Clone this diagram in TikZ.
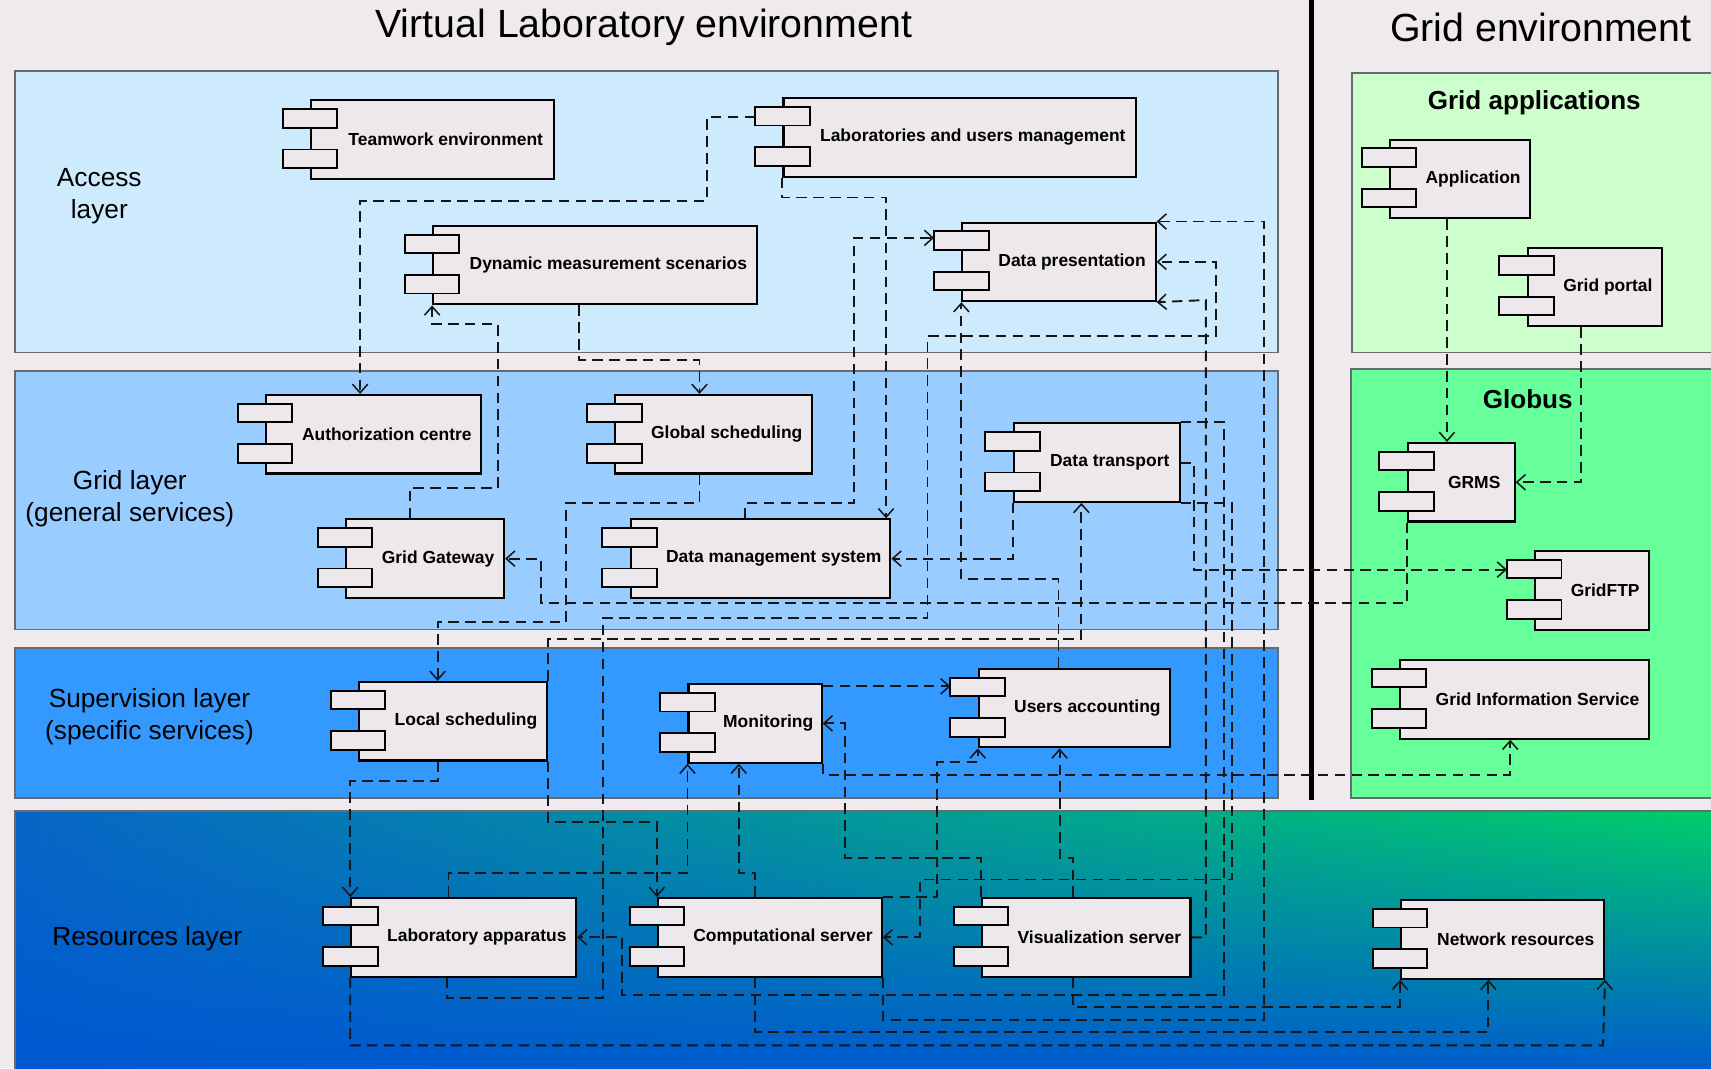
\documentclass[tikz,border=0pt]{standalone}
\usepackage{fontspec}
\setmainfont{Liberation Sans}
\usepackage{tikz}
\usetikzlibrary{
    arrows.meta,
    positioning,
    fadings
}
\definecolor{pagebg}{HTML}{EEEAEE}
\definecolor{accesscolor}{HTML}{CDEBFD}
\definecolor{gridcolor}{HTML}{99CCFF}
\definecolor{supercolor}{HTML}{3399FF}
\definecolor{appscolor}{HTML}{CCFFCC}
\definecolor{globuscolor}{HTML}{66FF99}
\definecolor{resleft}{HTML}{0866C6}
\definecolor{resmid}{HTML}{00AE98}
\definecolor{resright}{HTML}{00D068}
\definecolor{resbottom}{HTML}{0058D2}
\definecolor{compfill}{HTML}{ECE8EC}
\definecolor{layerborder}{HTML}{6A6A6A}
\definecolor{depline}{HTML}{161616}
\tikzfading[name=res fade, top color=transparent!100, middle color=transparent!75, bottom color=transparent!0]
\tikzset{
    layer box/.style={
        draw=layerborder, line width=0.9pt, fill=#1
    },
    layer label/.style={
        font=\fontsize{13.7}{16.5}\selectfont, align=center
    },
    group label/.style={
        font=\fontsize{13.6}{16}\selectfont\bfseries
    },
    env title/.style={
        font=\fontsize{20.5}{24}\selectfont
    },
    comp tab/.style={
        draw=black, line width=1pt, fill=compfill
    },
    component/.style={
        rectangle, draw=black, line width=1.1pt, fill=compfill,
        anchor=north west, minimum height=1.44cm,
        minimum width=#1*0.02cm, inner sep=0pt,
        font=\fontsize{9.1}{11}\selectfont\bfseries,
        execute at begin node={\hspace*{13.7pt}}
    },
    dependency/.style={
        draw=depline, line width=1pt, dash pattern=on 5.5pt off 3.3pt,
        -{Straight Barb[length=4.5pt, width=8pt, line width=0.8pt]}
    },
}

\begin{document}
\begin{tikzpicture}[x=0.02cm, y=-0.02cm]
    \useasboundingbox (0,0) rectangle (1568,979);
    \clip (0,0) rectangle (1568,979);
    \fill[pagebg] (0,0) rectangle (1568,979);

    % layers
    \draw[layer box=accesscolor] (14,65) rectangle (1171,323);
    \draw[layer box=gridcolor] (14,340) rectangle (1171,577);
    \draw[layer box=supercolor] (14,594) rectangle (1171,731);
    \shade[left color=resleft, middle color=resmid, right color=resright]
        (14,743) rectangle (1600,990);
    \fill[resbottom, path fading=res fade] (14,743) rectangle (1600,990);
    \draw[layerborder, line width=0.9pt] (14,1000) -- (14,743) -- (1600,743);
    \draw[layer box=appscolor] (1239,67) rectangle (1600,323);
    \draw[layer box=globuscolor] (1238,338) rectangle (1600,731);
    \draw[line width=2.8pt] (1202,0) -- (1202,733);

    \node[env title] (vltitle) at (590,25) {Virtual Laboratory environment};
    \node[env title] (gridtitle) at (1412,25) {Grid environment};

    \node[layer label] (accesslbl) at (91,180) {Access\\layer};
    \node[layer label] (gridlbl) at (119,457) {Grid layer\\(general services)};
    \node[layer label] (superlbl) at (137,657) {Supervision layer\\(specific services)};
    \node[layer label] (reslbl) at (135,860) {Resources layer};
    \node[group label] (appslbl) at (1406,94) {Grid applications};
    \node[group label] (globuslbl) at (1400,366) {Globus};

    % components
    \node[component=223] (team) at (284,91) {Teamwork environment};
    \node[component=323] (labmgmt) at (717,89) {Laboratories and users management};
    \node[component=297] (dynscen) at (396,206) {Dynamic measurement scenarios};
    \node[component=177] (datapres) at (881,203) {Data presentation};
    \node[component=197] (authc) at (243,361) {Authorization centre};
    \node[component=180] (globsched) at (563,361) {Global scheduling};
    \node[component=145] (gateway) at (316,475) {Grid Gateway};
    \node[component=238] (dms) at (577,475) {Data management system};
    \node[component=152] (datatrans) at (928,387) {Data transport};
    \node[component=172] (localsched) at (328,624) {Local scheduling};
    \node[component=122] (monitor) at (630,626) {Monitoring};
    \node[component=175] (usersacc) at (896,612) {Users accounting};
    \node[component=206] (labapp) at (321,822) {Laboratory apparatus};
    \node[component=205] (compserv) at (602,822) {Computational server};
    \node[component=191] (visserv) at (899,822) {Visualization server};
    \node[component=186] (netres) at (1283,824) {Network resources};
    \node[component=128] (app) at (1273,127) {Application};
    \node[component=123] (portal) at (1399,226) {Grid portal};
    \node[component=98] (grms) at (1289,405) {GRMS};
    \node[component=104] (gridftp) at (1406,504) {GridFTP};
    \node[component=228] (gis) at (1282,604) {Grid Information Service};

    \foreach \cname in {team, labmgmt, dynscen, datapres, authc, globsched, gateway, dms,
        datatrans, localsched, monitor, usersacc, labapp, compserv, visserv, netres,
        app, portal, grms, gridftp, gis} {
        \draw[comp tab] ([shift={(-25,9)}]\cname.north west) rectangle ++(50,17);
        \draw[comp tab] ([shift={(-25,46)}]\cname.north west) rectangle ++(50,17);
    }

    % dependencies
    \draw[dependency] ([shift={(-25,18)}]labmgmt.north west) -| (648,184) -| (authc.north -| 330,0);
    \draw[dependency] (labmgmt.south west) |- (812,181) -- (dms.north -| 812,0);
    \draw[dependency] (dms.north -| 683,0) |- (783,461) |- ([shift={(-25,15)}]datapres.north west);
    \draw[dependency] (dynscen.south -| 531,0) |- (641,330) -- (globsched.north -| 641,0);
    \draw[dependency] (gateway.north -| 376,0) |- (456,447) |- (396,297) -- (dynscen.south west);
    \draw[dependency] (globsched.south -| 641,0) |- (519,461) |- (401,570) -- (localsched.north -| 401,0);
    \draw[dependency] (grms.south west) |- (496,553) |- (gateway.east);
    \draw[dependency] (datatrans.south west) |- (dms.east);
    \draw[dependency] (labapp.south -| 410,0) |- (553,915) |- (850,566) |- (1114,308) |- (datapres.east);
    \draw[dependency] (localsched.north east) |- (991,586) -- (datatrans.south -| 991,0);
    \draw[dependency] (datatrans.north east) -| (1122,912) -- (570,912) |- (labapp.east);
    \draw[dependency] (datatrans.east) -| (1094,522) -- ([shift={(-25,18)}]gridftp.north west);
    \draw[dependency] (monitor.south east) |- (1384,710) -- (gis.south -| 1384,0);
    \draw[dependency] (visserv.north west) |- (774,786) |- (monitor.east);
    \draw[dependency] (monitor.east |- 0,629) -- ([shift={(-25,17)}]usersacc.north west);
    \draw[dependency] (localsched.south -| 401,0) |- (321,716) -- (labapp.north west);
    \draw[dependency] (localsched.south east) |- (602,753) -- (compserv.north west);
    \draw[dependency] (labapp.north -| 411,0) |- (630,800) -- (monitor.south west);
    \draw[dependency] (compserv.north -| 692,0) |- (677,800) -- (monitor.south -| 677,0);
    \draw[dependency] (usersacc.north -| 970,0) |- (881,531) -- (datapres.south -| 881,0);
    \draw[dependency] (visserv.north -| 983,0) |- (971,786) -- (usersacc.south -| 971,0);
    \draw[dependency] (compserv.north east) -| (859,698) -| (usersacc.south west);
    \draw[dependency] (datatrans.south east) -| (1129,806) -- (843,806) |- (compserv.east);
    \draw[dependency] (compserv.south east) |- (1158,935) |- (datapres.north east);
    \draw[dependency] (visserv.south -| 983,0) |- (1283,923) -- (netres.south west);
    \draw[dependency] (compserv.south -| 692,0) |- (1364,946) -- (netres.south -| 1364,0);
    \draw[dependency] (labapp.south west) |- (1469,958) -- (netres.south east);
    \draw[dependency] (visserv.east) -| (1105,275) -- (datapres.south east);
    \draw[dependency] (app.south -| 1326,0) -- (grms.north -| 1326,0);
    \draw[dependency] (portal.south -| 1449,0) |- (grms.east);
\end{tikzpicture}
\end{document}
